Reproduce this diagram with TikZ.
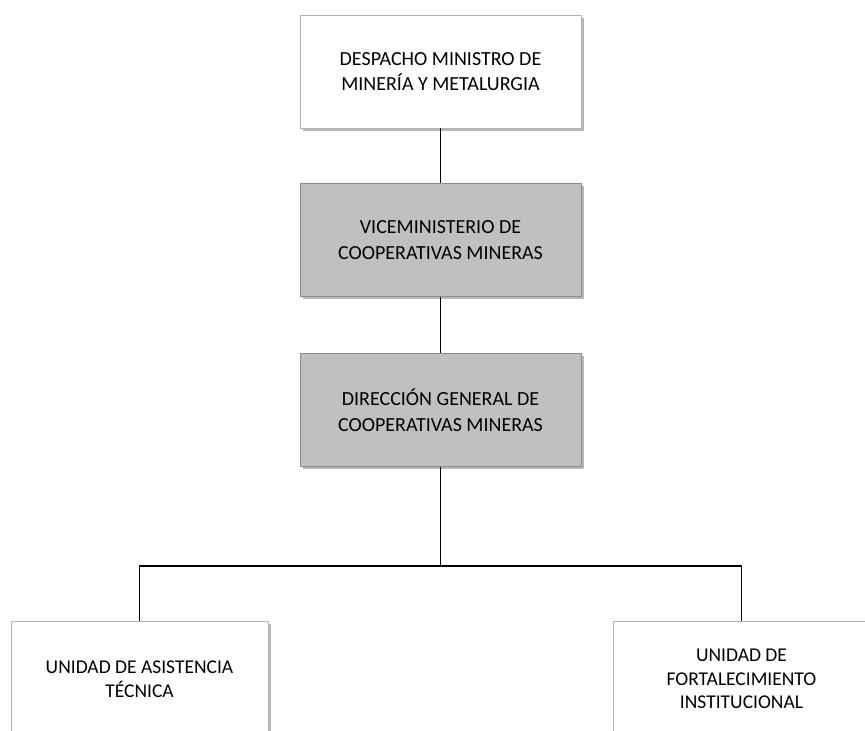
\documentclass[tikz,border=0pt]{standalone}
\usepackage{fontspec}
\setmainfont{Carlito}
\usetikzlibrary{shadows}
\definecolor{boxgray}{HTML}{C0C0C0}
\definecolor{edgedark}{HTML}{8C8C8C}
\definecolor{edgelight}{HTML}{B4B4B4}
\tikzset{
  orgbox/.style={rectangle, minimum width=281pt, minimum height=113pt, align=center,
    font=\fontsize{20}{25.5}\selectfont, text=black,
    drop shadow={shadow xshift=2.5pt, shadow yshift=-2.5pt, fill=black!35, opacity=0.8}},
  whitebox/.style={orgbox, fill=white, draw=edgelight, line width=0.8pt},
  graybox/.style={orgbox, fill=boxgray, draw=edgedark, line width=0.8pt},
  unitbox/.style={whitebox, minimum width=257pt, minimum height=116pt,
    font=\fontsize{19.5}{23.5}\selectfont},
  link/.style={draw=black, line width=1.3pt}
}
\begin{document}
\begin{tikzpicture}[x=1pt, y=-1pt]
\useasboundingbox (0,0) rectangle (865,731);
\clip (0,0) rectangle (865,731);
\fill[white] (0,0) rectangle (865,731);
\node[whitebox] (d) at (440.5,71.5) {DESPACHO MINISTRO DE\\MINERÍA Y METALURGIA};
\node[graybox] (v) at (440.5,240) {VICEMINISTERIO DE\\COOPERATIVAS MINERAS};
\node[graybox] (g) at (440.5,410) {DIRECCIÓN GENERAL DE\\COOPERATIVAS MINERAS};
\node[unitbox] (ua) at (139.5,679) {UNIDAD DE ASISTENCIA\\TÉCNICA};
\node[unitbox] (ub) at (741.5,679) {UNIDAD DE\\FORTALECIMIENTO\\INSTITUCIONAL};
\coordinate (bar) at (440.5,566);
\draw[link] (d) -- (v);
\draw[link] (v) -- (g);
\draw[link] (g) -- (bar);
\draw[link] (bar) -| (ua);
\draw[link] (bar) -| (ub);
\end{tikzpicture}
\end{document}
